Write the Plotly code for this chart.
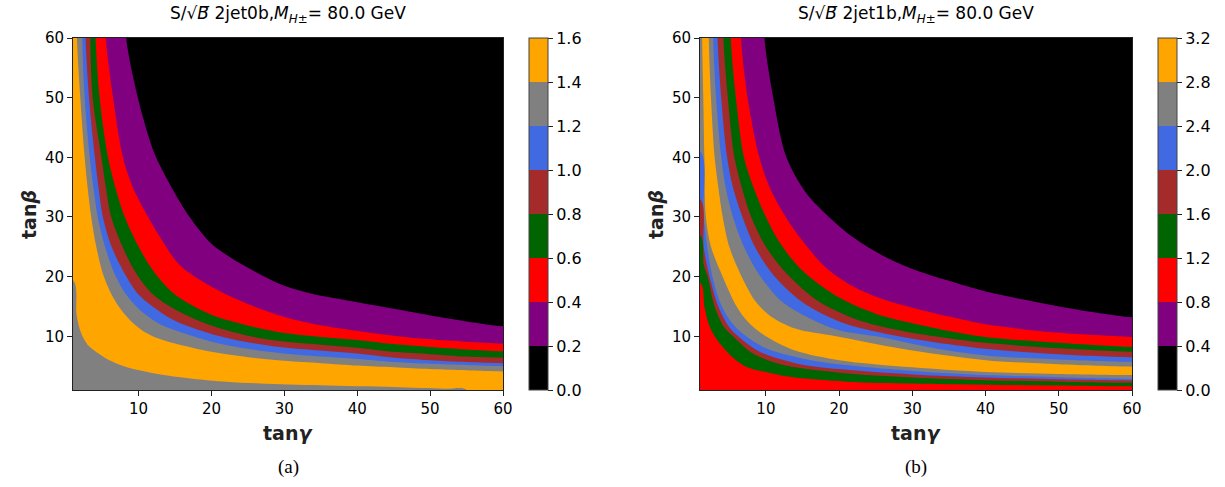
import plotly.graph_objects as go

# ---------------- data ----------------
X_RANGE = [1, 60]
Y_RANGE = [1, 60]
TICKS = [10, 20, 30, 40, 50, 60]

LEVELS_A = [0.0, 0.2, 0.4, 0.6, 0.8, 1.0, 1.2, 1.4, 1.6]
LEVELS_B = [0.0, 0.4, 0.8, 1.2, 1.6, 2.0, 2.4, 2.8, 3.2]
BAND_COLORS = ["black", "purple", "red", "darkgreen", "brown", "royalblue", "gray", "orange"]

# Panel (a): contour boundaries, outer (low S/sqrt(B)) to inner
A1_X = [8.3, 9.9, 11.5, 12.4, 14.5, 17, 20, 22.5, 25, 29.3, 33.5, 40, 45, 50, 55, 60]
A1_Y = [60, 50, 43, 40, 35, 30, 25.5, 23.3, 21.5, 18.8, 17.2, 15.7, 14.6, 13.5, 12.5, 11.7]
A2_X = [5.5, 6.5, 7.85, 9.2, 11.3, 13, 15.6, 20, 25, 29.3, 33.5, 40, 45, 50, 55, 60]
A2_Y = [60, 50, 40, 35, 30, 26.5, 22, 18.3, 15.4, 13.5, 12.2, 10.9, 10.1, 9.5, 9.1, 8.8]
A3_X = [4.1, 4.65, 5.8, 6.8, 8.1, 10, 12, 15, 20, 25, 29.3, 35, 40, 45, 50, 55, 60]
A3_Y = [60, 50, 40, 35, 30, 25, 21, 17, 13.6, 11.8, 10.7, 9.9, 9.4, 8.7, 8.2, 7.8, 7.5]
A4_X = [3.37, 3.7, 4.9, 5.5, 6.25, 7.8, 9.7, 12, 15, 20, 25, 29.3, 35, 40, 45, 50, 55, 60]
A4_Y = [60, 50, 40, 35, 30, 25, 20.5, 17, 14.5, 11.8, 10.1, 9.2, 8.6, 8.1, 7.4, 7.0, 6.6, 6.4]
A5_X = [2.73, 3.2, 4.0, 4.5, 5.1, 6.3, 8.1, 10, 12.5, 15, 20, 25, 29.3, 35, 40, 45, 50, 55, 60]
A5_Y = [60, 50, 40, 35, 30, 25, 20.5, 17, 14.5, 12.6, 10.4, 9.0, 8.2, 7.6, 7.1, 6.4, 6.0, 5.7, 5.5]
A6_X = [2.27, 2.6, 3.3, 3.8, 4.4, 5.4, 6.7, 8.3, 10, 12.5, 15, 20, 25, 29.3, 35, 40, 45, 50, 55, 60]
A6_Y = [60, 50, 40, 35, 30, 25, 20.5, 17, 14.6, 12.3, 11, 9.1, 7.9, 7.2, 6.6, 6.2, 5.7, 5.4, 5.2, 5.0]
A7_X = [1.54, 2.0, 2.6, 3.0, 3.5, 4.2, 5.1, 6.3, 7.5, 9, 11, 13, 15, 20, 25, 30, 35, 40, 45, 50, 55, 60]
A7_Y = [60, 50, 40, 35, 30, 25, 20.5, 17, 14.6, 12.5, 10.6, 9.5, 8.8, 7.4, 6.5, 5.9, 5.5, 5.1, 4.8, 4.5, 4.3, 4.1]
A8_X = [1, 1.5, 2.14, 3, 4.65, 6, 8, 10.1, 13, 17.4, 22, 26.6, 35, 45, 52, 55]
A8_Y = [19.4, 13.5, 10.45, 8.6, 7.0, 6, 5, 4.3, 3.6, 2.9, 2.4, 2.1, 1.8, 1.5, 1.2, 1]
A_CURVES = [(A1_X, A1_Y), (A2_X, A2_Y), (A3_X, A3_Y), (A4_X, A4_Y),
            (A5_X, A5_Y), (A6_X, A6_Y), (A7_X, A7_Y), (A8_X, A8_Y)]
A_FILLS = ["purple", "red", "darkgreen", "brown", "royalblue", "gray", "orange", "gray"]

# Panel (b)
B1_X = [9.8, 11, 12.8, 15.5, 18.6, 22, 26, 30, 35, 40, 45, 50, 55, 60]
B1_Y = [60, 50, 40, 34, 30, 26.5, 23.5, 21.3, 19.3, 17.5, 16.2, 15, 14, 13.2]
B2_X = [6.6, 7.5, 9.1, 10.5, 12.7, 15, 18.2, 22, 26, 30, 35, 40, 45, 50, 55, 60]
B2_Y = [60, 50, 40, 35, 30, 26, 21.5, 18.3, 16.2, 14.8, 13.3, 12, 11.2, 10.6, 10.2, 9.9]
B3_X = [5.2, 5.9, 7.0, 8.3, 10, 12, 15, 20, 25, 30, 35, 40, 50, 60]
B3_Y = [60, 50, 40, 35, 30, 25.5, 21, 16.5, 13.8, 12.2, 10.9, 9.9, 8.9, 8.2]
B4_X = [4.2, 4.8, 5.7, 6.7, 8.0, 10, 13, 17, 22, 27, 33, 40, 50, 60]
B4_Y = [60, 50, 40, 35, 30, 25, 20.3, 16, 13, 11.3, 10, 8.9, 8.0, 7.4]
B5_X = [3.4, 3.9, 4.7, 5.5, 6.8, 8.5, 11, 15, 20, 25, 30, 40, 50, 60]
B5_Y = [60, 50, 40, 35, 30, 25, 20.3, 15.7, 12.5, 10.8, 9.6, 7.9, 7.0, 6.5]
B6_X = [2.8, 3.2, 3.9, 4.5, 5.5, 7, 9, 12, 16, 20, 26, 33, 40, 50, 60]
B6_Y = [60, 50, 40, 35, 30, 25, 20.5, 16, 13, 11, 9.8, 8, 6.8, 6.1, 5.7]
B7_X = [2.2, 2.5, 3.0, 3.5, 4.1, 5, 6.5, 8.5, 10.5, 14, 19.6, 30, 40, 50, 60]
B7_Y = [60, 50, 40, 35, 30, 25, 20.5, 16, 13.5, 11.3, 10, 7.6, 6.0, 5.3, 4.9]
B8_X = [1.3, 1.45, 1.6, 1.8, 2.5, 4.1, 6, 7.5, 10, 14, 20, 30, 40, 50, 60]
B8_Y = [60, 50, 40, 30, 25, 20, 15, 12.5, 10, 7.6, 6, 4.8, 4.0, 3.7, 3.5]
B9_X = [1, 1.5, 2.7, 4, 5.5, 7.3, 10, 15, 20, 30, 40, 50, 60]
B9_Y = [41, 30, 20, 15, 12, 10, 8, 6.3, 5.3, 4.2, 3.5, 3.15, 2.9]
B10_X = [1, 1.5, 2.3, 3.5, 5, 6.2, 9, 14, 20, 30, 40, 50, 60]
B10_Y = [33, 25, 20, 15, 11.5, 10, 7.5, 5.5, 4.5, 3.6, 3.1, 2.8, 2.6]
B11_X = [1, 1.5, 2.05, 3, 4.3, 5.5, 8, 12, 20, 30, 40, 50, 60]
B11_Y = [27, 22, 20, 15, 11.5, 10, 7.3, 5.3, 3.9, 3.1, 2.65, 2.4, 2.2]
B12_X = [1, 1.6, 2.2, 3, 5, 7.3, 10, 13.2, 21, 30, 40, 50, 60]
B12_Y = [19, 15, 12, 10, 7, 4.9, 4.0, 3.2, 2.4, 2.1, 1.9, 1.75, 1.6]
B_CURVES = [(B1_X, B1_Y), (B2_X, B2_Y), (B3_X, B3_Y), (B4_X, B4_Y), (B5_X, B5_Y),
            (B6_X, B6_Y), (B7_X, B7_Y), (B8_X, B8_Y), (B9_X, B9_Y), (B10_X, B10_Y),
            (B11_X, B11_Y), (B12_X, B12_Y)]
B_FILLS = ["purple", "red", "darkgreen", "brown", "royalblue", "gray", "orange",
           "gray", "royalblue", "brown", "darkgreen", "red"]

TITLE_A = "S/√<i>B</i>\u0305 2jet0b,<i>M</i><sub><i>H</i>±</sub>= 80.0 GeV"
TITLE_B = "S/√<i>B</i>\u0305 2jet1b,<i>M</i><sub><i>H</i>±</sub>= 80.0 GeV"
XLABEL = "<b>tan</b><b><i>γ</i></b>"
YLABEL = "<b>tan</b><b><i>β</i></b>"

# ---------------- layout geometry (pixels) ----------------
W, H = 1225, 487
PANELS = [
    dict(x0=73, x1=503, cb=529, curves=A_CURVES, fills=A_FILLS, levels=LEVELS_A,
         title=TITLE_A, cap="(a)"),
    dict(x0=700, x1=1132, cb=1158, curves=B_CURVES, fills=B_FILLS, levels=LEVELS_B,
         title=TITLE_B, cap="(b)"),
]
PY0, PY1 = 38, 390
PAD = 5  # off-axis margin so smoothing of closing corners stays hidden


def region(xs, ys):
    """Polygon of the area between a boundary curve and the axes' lower-left corner."""
    px, py = [], []
    lo_x, hi_x = X_RANGE[0] - PAD, X_RANGE[1] + PAD
    lo_y, hi_y = Y_RANGE[0] - PAD, Y_RANGE[1] + PAD
    if ys[0] >= Y_RANGE[1]:
        px.append(xs[0]); py.append(hi_y)
    elif xs[0] <= X_RANGE[0]:
        px.append(lo_x); py.append(ys[0])
    px += list(xs); py += list(ys)
    if xs[-1] >= X_RANGE[1]:
        px += [hi_x, hi_x]; py += [ys[-1], lo_y]
    else:
        px.append(xs[-1]); py.append(lo_y)
    px.append(lo_x); py.append(lo_y)
    if ys[0] >= Y_RANGE[1]:
        px.append(lo_x); py.append(hi_y)
    return px, py


def discrete_scale(colors):
    n = len(colors)
    cs = []
    for i, c in enumerate(colors):
        cs.append([i / n, c])
        cs.append([(i + 1) / n, c])
    return cs


fig = go.Figure()
annotations = []
font_family = "DejaVu Sans"

for i, p in enumerate(PANELS):
    ax = "" if i == 0 else str(i + 1)
    xa, ya = "x" + ax, "y" + ax
    for (cx, cy), col in zip(p["curves"], p["fills"]):
        rx, ry = region(cx, cy)
        fig.add_trace(go.Scatter(
            x=rx, y=ry, fill="toself", fillcolor=col, mode="lines",
            line=dict(width=0, color=col, shape="spline", smoothing=0.9),
            xaxis=xa, yaxis=ya, showlegend=False, hoverinfo="skip"))
    lv = p["levels"]
    fig.add_trace(go.Scatter(
        x=[None], y=[None], mode="markers", xaxis=xa, yaxis=ya, showlegend=False,
        marker=dict(color=[lv[0]], cmin=lv[0], cmax=lv[-1],
                    colorscale=discrete_scale(BAND_COLORS), showscale=True,
                    colorbar=dict(
                        x=p["cb"] / W, xanchor="left", xpad=0,
                        y=1 - PY0 / H, yanchor="top", ypad=0,
                        lenmode="pixels", len=PY1 - PY0,
                        thickness=19, outlinewidth=1, outlinecolor="#444",
                        tickvals=lv, ticktext=["%.1f" % v for v in lv],
                        ticks="outside", ticklen=5, tickcolor="#222",
                        tickfont=dict(size=16, color="black", family=font_family)))))
    dom_x = [p["x0"] / W, p["x1"] / W]
    dom_y = [1 - PY1 / H, 1 - PY0 / H]
    axis_common = dict(showline=True, mirror=True, linecolor="#222", linewidth=1,
                       ticks="outside", ticklen=5, tickcolor="#222",
                       tickvals=TICKS, showgrid=False, zeroline=False,
                       automargin=False,
                       tickfont=dict(size=15, color="black", family=font_family))
    fig.update_layout(**{
        "xaxis" + ax: dict(domain=dom_x, range=X_RANGE, anchor=ya, **axis_common),
        "yaxis" + ax: dict(domain=dom_y, range=Y_RANGE, anchor=xa, **axis_common),
    })
    cx_mid = (p["x0"] + p["x1"]) / 2 / W
    common = dict(xref="paper", yref="paper", showarrow=False,
                  xanchor="center", yanchor="middle")
    annotations += [
        dict(text=p["title"], x=cx_mid, y=1 - 15 / H,
             font=dict(size=17, color="black", family=font_family), **common),
        dict(text=XLABEL, x=cx_mid, y=1 - 433 / H,
             font=dict(size=19, color="#222", family=font_family), **common),
        dict(text=YLABEL, x=(p["x0"] - 44) / W, y=1 - 215 / H, textangle=-90,
             font=dict(size=19, color="#222", family=font_family), **common),
        dict(text=p["cap"], x=cx_mid, y=1 - 467 / H,
             font=dict(size=19, color="black", family="Liberation Serif"), **common),
    ]

fig.update_layout(width=W, height=H, margin=dict(l=0, r=0, t=0, b=0, autoexpand=False),
                  paper_bgcolor="white", plot_bgcolor=BAND_COLORS[0],
                  annotations=annotations, font=dict(family=font_family))
fig.write_html("out.html", config={"displayModeBar": False},
               post_script="document.body.style.margin='0';")
